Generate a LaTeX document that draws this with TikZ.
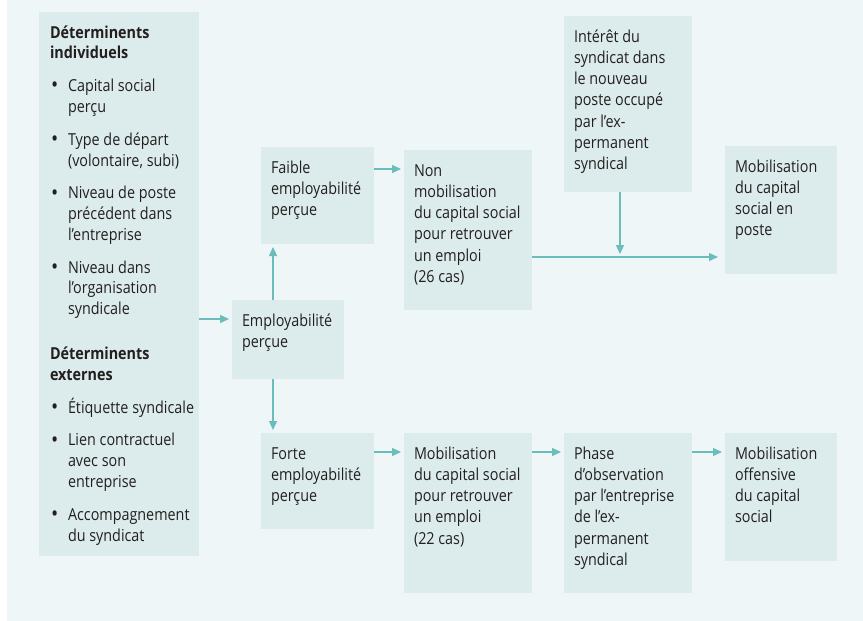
\documentclass[tikz,border=0pt]{standalone}
\usepackage{fontspec}
\setmainfont{Open Sans}[FakeStretch=0.87]
\usetikzlibrary{arrows.meta}
\definecolor{bgc}{HTML}{EEF6F8}
\definecolor{boxc}{HTML}{DCEBEB}
\definecolor{arrc}{HTML}{6BBDBC}
\definecolor{txtc}{HTML}{231F20}
\tikzset{
  box/.style={fill=boxc, inner sep=0pt, outer sep=0pt, anchor=north west, text=txtc},
  arr/.style={draw=arrc, line width=1.3pt, -{Triangle[length=9pt,width=8pt]}, shorten >=3pt}
}
\newcommand\bx[6]{\node[box] (#1) at (#2,#3) {\hspace*{10pt}\begin{minipage}[t][#5pt][t]{\dimexpr#4pt-10pt\relax}\fontsize{16.5}{21.3}\selectfont\rule{0pt}{26pt}#6\end{minipage}};}
\newcommand\itm[1]{\par\vspace{12pt}\hangindent=18pt\hangafter=1\noindent\makebox[18pt][l]{\hspace{1pt}\raisebox{-1.2pt}{\fontsize{22}{0}\selectfont\textbullet}}#1}
\begin{document}
\begin{tikzpicture}[x=1pt,y=-1pt]
\useasboundingbox (0,0) rectangle (863,621);
\fill[bgc] (7,0) rectangle (863,621);
\node[box] (det) at (39,12) {\hspace*{11pt}\begin{minipage}[t][544pt][t]{149pt}\fontsize{16.5}{20.8}\selectfont\rule{0pt}{26pt}\textbf{Déterminents\\individuels}
\itm{Capital social\\perçu}
\itm{Type de départ\\(volontaire, subi)}
\itm{Niveau de poste\\précédent dans\\l’entreprise}
\itm{Niveau dans\\l’organisation\\syndicale}
\par\vspace{24pt}\noindent\textbf{Déterminents\\externes}
\itm{Étiquette syndicale}
\itm{Lien contractuel\\avec son\\entreprise}
\itm{Accompagnement\\du syndicat}
\end{minipage}};
\bx{emp}{232}{300}{112}{79}{Employabilité\\perçue}
\bx{faible}{261}{147}{113}{97}{Faible\\employabilité\\perçue}
\bx{nonmob}{404}{150}{128}{160}{Non\\mobilisation\\du capital social\\pour retrouver\\un emploi\\(26 cas)}
\bx{interet}{564}{16}{128}{176}{Intérêt du\\syndicat dans\\le nouveau\\poste occupé\\par l’ex-\\permanent\\syndical}
\bx{poste}{725}{146}{112}{128}{Mobilisation\\du capital\\social en\\poste}
\bx{forte}{261}{433}{113}{96}{Forte\\employabilité\\perçue}
\bx{mob}{404}{433}{128}{160}{Mobilisation\\du capital social\\pour retrouver\\un emploi\\(22 cas)}
\bx{phase}{564}{433}{128}{160}{Phase\\d’observation\\par l’entreprise\\de l’ex-\\permanent\\syndical}
\bx{offens}{725}{433}{112}{128}{Mobilisation\\offensive\\du capital\\social}
\coordinate (ya) at (0,319);
\coordinate (yb) at (0,169);
\coordinate (yc) at (0,257);
\coordinate (yd) at (0,452);
\coordinate (xa) at (273,0);
\coordinate (xb) at (620,0);
\coordinate (join) at (620,257);
\draw[arr] (det.east |- ya) -- (emp.west |- ya);
\draw[arr] (emp.north -| xa) -- (faible.south -| xa);
\draw[arr] (emp.south -| xa) -- (forte.north -| xa);
\draw[arr] (faible.east |- yb) -- (nonmob.west |- yb);
\draw[arr, shorten >=7pt] (nonmob.east |- yc) -- (poste.west |- yc);
\draw[arr] (interet.south -| xb) -- (join);
\draw[arr] (forte.east |- yd) -- (mob.west |- yd);
\draw[arr] (mob.east |- yd) -- (phase.west |- yd);
\draw[arr] (phase.east |- yd) -- (offens.west |- yd);
\end{tikzpicture}
\end{document}
